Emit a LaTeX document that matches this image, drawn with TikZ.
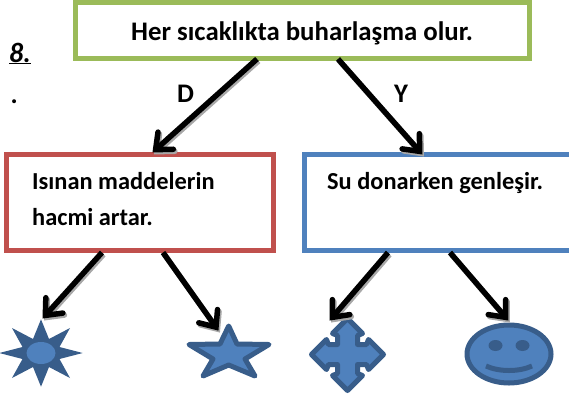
\documentclass[tikz,border=0pt]{standalone}
\usepackage{fontspec}
\setmainfont{Carlito}
\usetikzlibrary{arrows.meta,calc}
\definecolor{cgreen}{HTML}{9BBB59}
\definecolor{cred}{HTML}{C0504D}
\definecolor{cblue}{HTML}{4F81BD}
\definecolor{cdark}{HTML}{385D8A}
\definecolor{cshadow}{HTML}{A8A8A8}
\pgfdeclarearrow{
  name=Chev,
  setup code={\pgfarrowssettipend{0pt}\pgfarrowssetlineend{-6pt}\pgfarrowssetbackend{-18pt}\pgfarrowssetvisualbackend{-6pt}},
  drawing code={\pgfsetdash{}{0pt}\pgfsetroundcap\pgfsetmiterjoin
    \pgfpathmoveto{\pgfpoint{-17pt}{11.5pt}}\pgfpathlineto{\pgfpoint{-3.5pt}{0pt}}\pgfpathlineto{\pgfpoint{-17pt}{-11.5pt}}\pgfusepathqstroke}
}
\tikzset{
  box/.style={draw=#1,line width=5pt,fill=white,inner sep=0pt,outer sep=0pt,anchor=north west},
  lbl/.style={font=\bfseries\fontsize{24.4}{28}\selectfont,inner sep=0pt,anchor=base west},
  conn/.style={line width=5.5pt,black,-Chev},
  connshade/.style={line width=5.5pt,cshadow,-Chev,transform canvas={xshift=1.5pt,yshift=-2pt}},
  figure/.style={draw=cdark,fill=cblue,line width=5pt,line join=round},
  facemark/.style={fill=cdark,draw=none}
}
\newcommand\linkarrow[2]{\draw[connshade] #1 -- #2; \draw[conn] #1 -- #2;}
\begin{document}
\begin{tikzpicture}[x=1pt,y=-1pt]
\useasboundingbox (0,0) rectangle (569,394);
\node[box=cgreen,minimum width=454pt,minimum height=56pt] (top) at (75.5,2.5) {};
\node[box=cred,minimum width=267pt,minimum height=96pt] (redb) at (6.5,154.5) {};
\node[box=cblue,minimum width=270pt,minimum height=96pt] (blueb) at (304.5,154.5) {};
\node[lbl,font=\bfseries\fontsize{26.8}{30}\selectfont] (t1) at (131,40) {Her sıcaklıkta buharlaşma olur.};
\node[lbl] (t2) at (32,189) {Isınan maddelerin};
\node[lbl] (t3) at (32,225) {hacmi artar.};
\node[lbl] (t4) at (327,189) {Su donarken genleşir.};
\node[lbl,font=\bfseries\fontsize{26.8}{30}\selectfont] (d) at (177,102) {D};
\node[lbl,font=\bfseries\fontsize{26.8}{30}\selectfont] (y) at (394,102.5) {Y};
\node[lbl,font=\bfseries\itshape\fontsize{28}{30}\selectfont] (n8) at (9,62) {\underline{8.}};
\node[lbl,font=\bfseries\fontsize{26.8}{30}\selectfont] (dot) at (10.5,103) {.};
% figures
\begin{scope}[shift={(41,353)}]
\fill[cdark] (41.7,0)--(18.5,-6)--(29,-25)--(8,-14)--(0,-33.7)--(-8,-14)--(-29,-25)--(-18.5,-6)--(-41.7,0)--(-18.5,6)--(-29,25)--(-8,14)--(0,33.7)--(8,14)--(29,25)--(18.5,6)--cycle;
\fill[cblue] (0,0) ellipse [x radius=14.5,y radius=11];
\coordinate (sun) at (2,-35);
\end{scope}
\draw[figure] (228.7,326)--(237,344)--(269,344.5)--(245,359)--(255,376)--(228.7,365)--(203,376)--(213,359)--(189,344.5)--(220,344)--cycle;
\coordinate (starf) at (218,330);
\begin{scope}[shift={(347.5,354.5)}]
\draw[figure] (0,-36)--(15,-21)--(10,-19)--(10,-10)--(19,-10)--(21,-15)--(36,0)--(21,15)--(19,10)--(10,10)--(10,19)--(15,21)--(0,36)--(-15,21)--(-10,19)--(-10,10)--(-19,10)--(-21,15)--(-36,0)--(-21,-15)--(-19,-10)--(-10,-10)--(-10,-19)--(-15,-21)--cycle;
\coordinate (quad) at (-17.5,-34.5);
\end{scope}
\begin{scope}[shift={(509,354)}]
\draw[figure] (0,0) ellipse [x radius=42,y radius=29];
\fill[facemark] (-13.5,-8.5) ellipse [x radius=7,y radius=5.5];
\fill[facemark] (13.5,-8.5) ellipse [x radius=7,y radius=5.5];
\draw[cdark,line width=5pt] (-23,12) .. controls (-10,18) and (10,18) .. (23,12);
\coordinate (smile) at (-1,-34);
\end{scope}
% connectors
\linkarrow{($(top.south west)+(181.5,0.5)$)}{($(redb.north west)+(146.5,-2.5)$)}
\linkarrow{($(top.south west)+(262.5,0.5)$)}{($(blueb.north west)+(117.5,-0.5)$)}
\linkarrow{($(redb.south west)+(95.5,2)$)}{(sun)}
\linkarrow{($(redb.south west)+(156.5,2)$)}{(starf)}
\linkarrow{($(blueb.south west)+(83.5,2)$)}{(quad)}
\linkarrow{($(blueb.south west)+(145.5,2)$)}{(smile)}
\end{tikzpicture}
\end{document}
